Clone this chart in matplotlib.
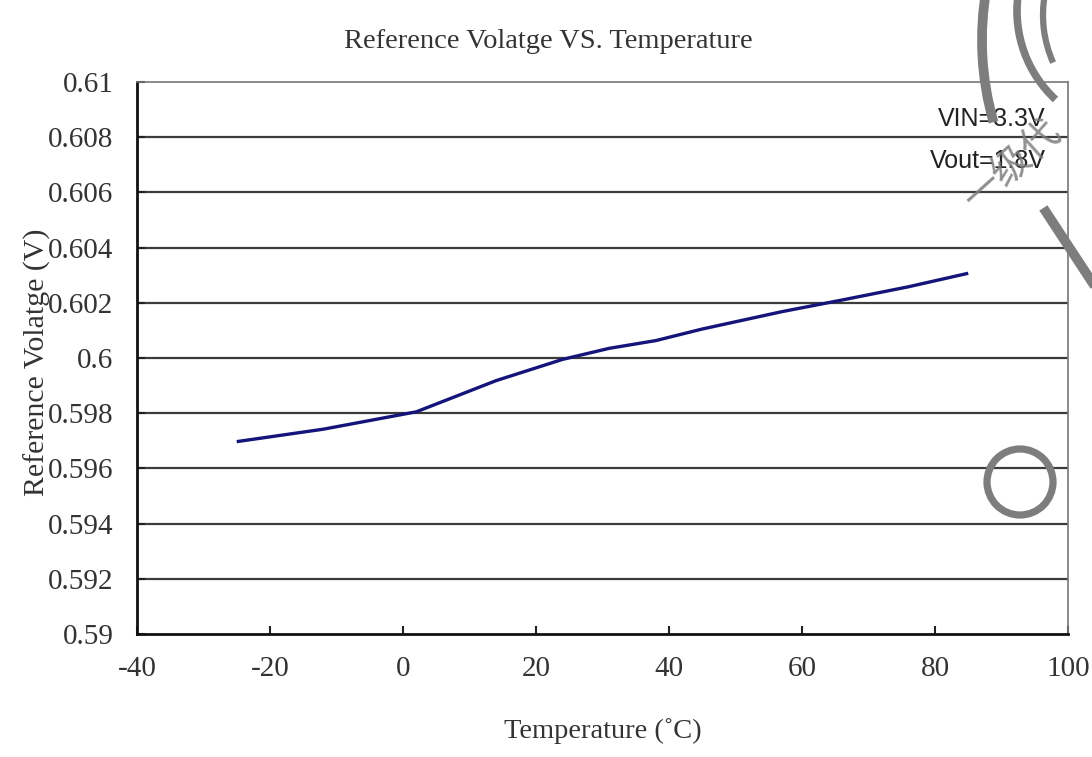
import matplotlib.pyplot as plt
from matplotlib.patches import Circle, Arc
from matplotlib.lines import Line2D

# data
temps = [-25, -12, 2, 14, 24, 31, 38, 45, 57, 66, 76, 85]
vref = [0.59697, 0.59742, 0.59805, 0.59918, 0.59995, 0.60035,
        0.60063, 0.60105, 0.60168, 0.60210, 0.60258, 0.60307]
x_ticks = [-40, -20, 0, 20, 40, 60, 80, 100]
x_labels = ['-40', '-20', '0', '20', '40', '60', '80', '100']
y_ticks = [0.59, 0.592, 0.594, 0.596, 0.598, 0.6, 0.602, 0.604, 0.606, 0.608, 0.61]
y_labels = ['0.59', '0.592', '0.594', '0.596', '0.598', '0.6',
            '0.602', '0.604', '0.606', '0.608', '0.61']
notes = ['VIN=3.3V', 'Vout=1.8V']

serif = 'Liberation Serif'
txt = '#333333'
W, H = 1092, 757

fig = plt.figure(figsize=(10.92, 7.57), dpi=100)
ax = fig.add_axes([137 / W, 1 - 634 / H, (1068 - 137) / W, (634 - 82) / H])

ax.plot(temps, vref, color='#14147a', lw=2.4, solid_capstyle='butt')

ax.set_xlim(-40, 100)
ax.set_ylim(0.59, 0.61)
ax.set_xticks(x_ticks)
ax.set_xticklabels(x_labels)
ax.set_yticks(y_ticks)
ax.set_yticklabels(y_labels)
for y in y_ticks[1:-1]:
    ax.axhline(y, color='#3c3c3c', lw=1.6, zorder=0)

ax.tick_params(direction='in', length=6, width=1.5, color='#222222',
               labelsize=21, labelcolor=txt)
ax.tick_params(axis='x', pad=16)
ax.tick_params(axis='y', pad=17)
for lab in ax.get_xticklabels() + ax.get_yticklabels():
    lab.set_fontfamily(serif)

ax.spines['left'].set_linewidth(2.0)
ax.spines['bottom'].set_linewidth(2.0)
ax.spines['left'].set_color('#111111')
ax.spines['bottom'].set_color('#111111')
ax.spines['top'].set_linewidth(1.2)
ax.spines['right'].set_linewidth(1.2)
ax.spines['top'].set_color('#777777')
ax.spines['right'].set_color('#777777')

fig.text(548 / W, 1 - 42 / H, 'Reference Volatge VS. Temperature',
         family=serif, fontsize=20.5, color=txt, ha='center', va='center')
fig.text(603 / W, 1 - 731 / H, 'Temperature (˚C)',
         family=serif, fontsize=20.5, color=txt, ha='center', va='center')
fig.text(37 / W, 1 - 362 / H, 'Reference Volatge (V)',
         family=serif, fontsize=21.5, color=txt, ha='center', va='center',
         rotation=90)

for i, s in enumerate(notes):
    fig.text(1046 / W, 1 - (119 + 42 * i) / H, s, family='Liberation Sans',
             fontsize=18, color='#222222', ha='right', va='center')

# watermark remnants (stamp in the top right corner), in inches
wm = '#7d7d7d'
tin = fig.dpi_scale_trans
fig.patches.append(Circle((10.20, (H - 482) / 100), 0.33,
                          transform=tin, fill=False, ec=wm, lw=5.2, zorder=5))
for cx, cy, r, t1, t2, lw in [(1280, 40, 298, 170, 196, 7.0),
                              (1138, 11, 121, 173, 227, 5.5),
                              (1160, 15, 117, 170, 204, 4.5)]:
    fig.patches.append(Arc((cx / 100, (H - cy) / 100), 2 * r / 100, 2 * r / 100,
                           theta1=t1, theta2=t2, transform=tin,
                           ec=wm, lw=lw, zorder=5))
fig.lines.append(Line2D([1046 / W, 1092 / W], [1 - 212 / H, 1 - 282 / H],
                        transform=fig.transFigure, color=wm, lw=7, zorder=5))
fig.text(1012 / W, 1 - 165 / H, '一级代', family=['Noto Sans CJK SC'],
         fontsize=28, color=wm, rotation=42, ha='center', va='center',
         alpha=0.85, zorder=6)

fig.savefig('out.png', dpi=100)
